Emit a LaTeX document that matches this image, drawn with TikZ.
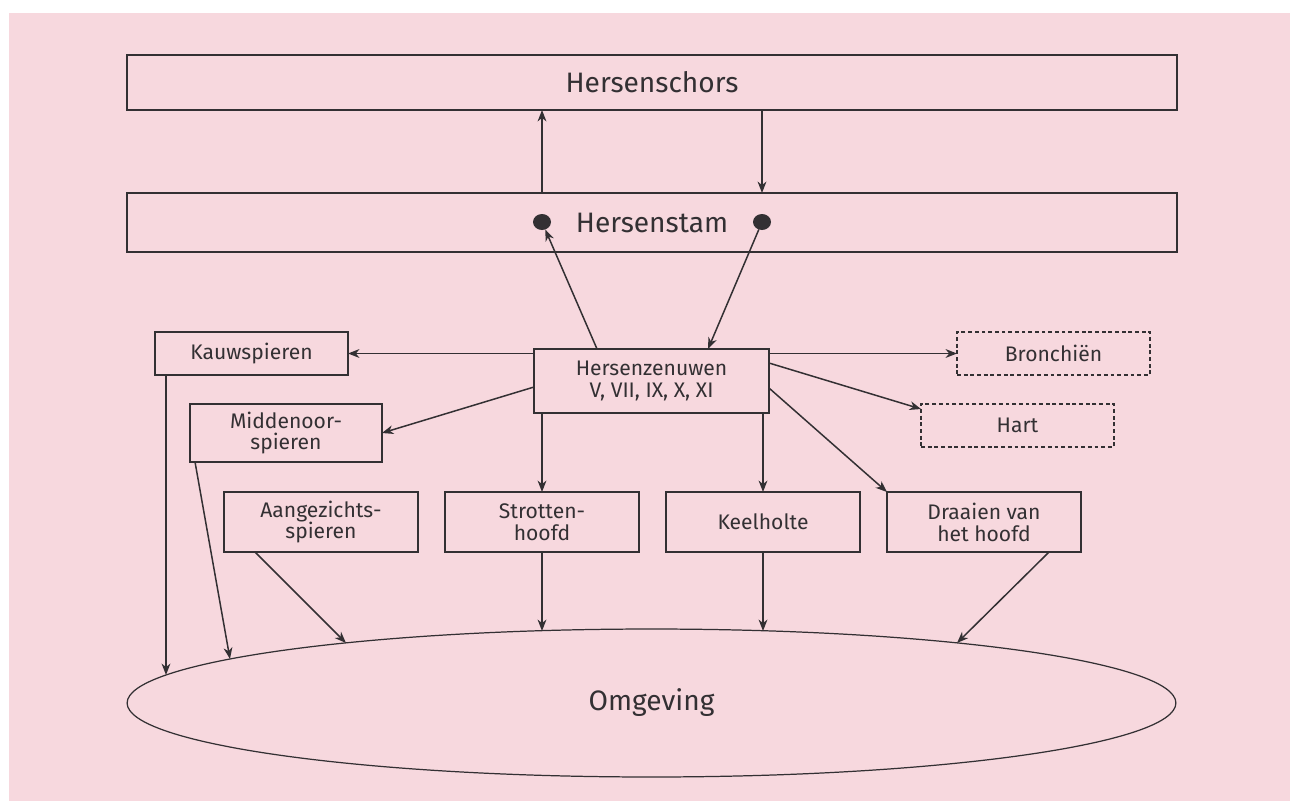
\documentclass[tikz,border=0pt]{standalone}
\usepackage{fontspec}
\IfFontExistsTF{Fira Sans Book}{\setmainfont{Fira Sans Book}}{\setmainfont{Fira Sans}}
\usetikzlibrary{shapes.geometric,arrows.meta,calc}
\definecolor{bgpink}{RGB}{247,216,222}
\definecolor{ink}{RGB}{51,48,51}
\begin{document}
\begin{tikzpicture}[x=0.02cm,y=-0.02cm,
  box/.style={draw=ink,line width=1pt,inner sep=0pt,outer sep=0pt,text=ink,align=center,font=\fontsize{12}{12.5}\selectfont},
  bigbox/.style={box,minimum width=21cm,font=\fontsize{16}{18}\selectfont},
  sbox/.style={box,minimum width=3.86cm,minimum height=0.86cm},
  tbox/.style={box,minimum width=3.88cm,minimum height=1.2cm},
  dbox/.style={sbox,dash pattern=on 2.2pt off 1.6pt,line width=0.8pt},
  arr/.style={draw=ink,line width=0.85pt,-{Stealth[length=6.5pt,width=5pt,inset=2pt]}},
  dot/.style={ellipse,fill=ink,inner sep=0pt,outer sep=0pt,minimum width=0.36cm,minimum height=0.32cm},
  omgstyle/.style={draw=ink,line width=0.7pt,ellipse,inner sep=0pt,outer sep=0pt,text=ink,font=\fontsize{16}{18}\selectfont}]
\useasboundingbox (0,0) rectangle (1290,801);
\fill[white] (0,0) rectangle (1290,801);
\fill[bgpink] (9,13) rectangle (1290,801);

\node[bigbox,minimum height=1.1cm] (schors) at (652,82.5) {Hersenschors};
\node[bigbox,minimum height=1.18cm] (stam) at (652,222.5) {Hersenstam};
\node[dot] (dl) at (542,222) {};
\node[dot] (dr) at (762,222) {};
\node[box,minimum width=4.7cm,minimum height=1.28cm] (hz) at (651.5,381) {Hersenzenuwen\\V, VII, IX, X, XI};
\node[sbox] (kauw) at (251.5,353.5) {Kauwspieren};
\node[dbox] (bron) at (1053.5,353.5) {Bronchiën};
\node[dbox] (hart) at (1017.5,425.5) {Hart};
\node[tbox,minimum width=3.84cm,minimum height=1.16cm] (mid) at (286,433) {Middenoor-\\spieren};
\node[tbox] (aang) at (321,522) {Aangezichts-\\spieren};
\node[tbox] (strot) at (542,522) {Strotten-\\hoofd};
\node[tbox] (keel) at (763,522) {Keelholte};
\node[tbox] (draai) at (984,522) {Draaien van\\het hoofd};
\node[omgstyle,minimum width=20.98cm,minimum height=2.96cm] (omg) at (651.5,703) {Omgeving};

\coordinate (e1) at (166,675);
\coordinate (e2) at (230,659);
\coordinate (e3) at (346,643);
\coordinate (e4) at (542,631);
\coordinate (e5) at (763,631);
\coordinate (e6) at (957,643);

% cortex <-> brainstem
\draw[arr] (stam.north -| dl) -- (schors.south -| dl);
\draw[arr] (schors.south -| dr) -- (stam.north -| dr);
% brainstem <-> cranial nerves
\draw[arr] ($(hz.north west)+(63,0)$) -- (dl);
\draw[arr] (dr) -- ($(hz.north west)+(174,0)$);
% cranial nerves to targets
\draw[arr] (hz.west |- kauw) -- (kauw.east);
\draw[arr] (hz.east |- bron) -- (bron.west);
\draw[arr] ($(hz.north east)+(0,14)$) -- ($(hart.north west)+(0,5)$);
\draw[arr] ($(hz.north west)+(0,38)$) -- (mid.east);
\draw[arr] ($(hz.north east)+(0,39)$) -- (draai.north west);
\draw[arr] (hz.south -| strot) -- (strot.north);
\draw[arr] (hz.south -| keel) -- (keel.north);
% targets to environment
\draw[arr] (kauw.south -| e1) -- (e1);
\draw[arr] ($(mid.south west)+(5,0)$) -- (e2);
\draw[arr] ($(aang.south west)+(31,0)$) -- (e3);
\draw[arr] (strot.south) -- (e4);
\draw[arr] (keel.south) -- (e5);
\draw[arr] ($(draai.south west)+(162,0)$) -- (e6);
\end{tikzpicture}
\end{document}
